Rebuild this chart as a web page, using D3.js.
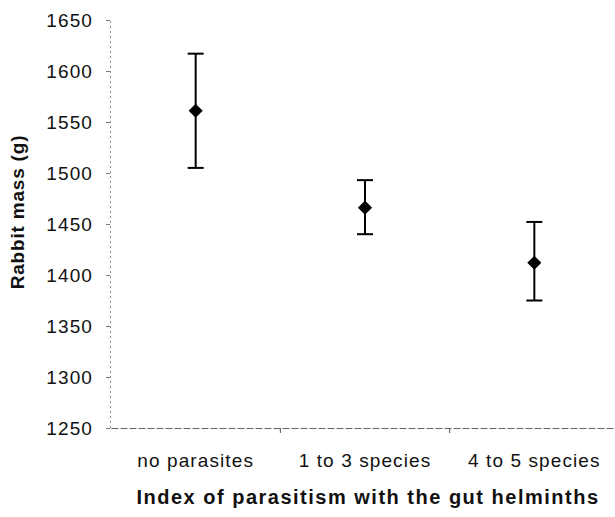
<!DOCTYPE html>
<html>
<head>
<meta charset="utf-8">
<script src="https://cdn.jsdelivr.net/npm/d3@7"></script>
<style>
  html, body { margin: 0; padding: 0; background: #fff; }
  svg { display: block; }
  text { font-family: "Liberation Sans", Arial, sans-serif; fill: #111; }
</style>
</head>
<body>
<svg id="chart" width="615" height="517"></svg>
<script>
// Rabbit body mass by gut-helminth parasitism index (mean with error bars)
const categories = ["no parasites", "1 to 3 species", "4 to 5 species"];
const meanMass = [1561, 1466, 1412];
const upperMass = [1617, 1493, 1452];
const lowerMass = [1505, 1440, 1375];
const yTicks = [1250, 1300, 1350, 1400, 1450, 1500, 1550, 1600, 1650];

const svg = d3.select("#chart");

const x = d3.scaleBand().domain(categories).range([111, 619]).padding(0);
const y = d3.scaleLinear().domain([1250, 1650]).range([428, 20]);

// Y axis
const yAxis = svg.append("g")
  .attr("transform", "translate(110,0)")
  .call(d3.axisLeft(y).tickValues(yTicks).tickFormat(d3.format("d")).tickSize(4).tickPadding(13));
yAxis.select(".domain")
  .attr("stroke", "#8a8a8a").attr("stroke-dasharray", "2,3").attr("stroke-width", 1);
yAxis.selectAll(".tick line").attr("stroke", "#777");
yAxis.selectAll(".tick text")
  .style("font-size", "19px").style("letter-spacing", "1.1px")
  .attr("dy", "0.36em");

// X axis: ticks at the category boundaries
const boundaries = categories.slice(1).map(c => x(c));
const xAxis = svg.append("g")
  .attr("transform", "translate(0,428)")
  .call(d3.axisBottom(x).tickSize(0).tickFormat(""));
xAxis.select(".domain")
  .attr("stroke", "#666").attr("stroke-width", 1.2).attr("stroke-dasharray", "7,2");
xAxis.selectAll(".tick").remove();
xAxis.selectAll("line.sep")
  .data(boundaries)
  .join("line")
  .attr("class", "sep")
  .attr("x1", d => d).attr("x2", d => d)
  .attr("y1", 0).attr("y2", 5)
  .attr("stroke", "#555");

// Category labels
svg.append("g").selectAll("text")
  .data(categories)
  .join("text")
  .attr("x", d => x(d) + x.bandwidth() / 2)
  .attr("y", 467)
  .attr("text-anchor", "middle")
  .style("font-size", "19px")
  .style("letter-spacing", "1.1px")
  .text(d => d);

// Axis titles
svg.append("text")
  .attr("x", 368).attr("y", 504)
  .attr("text-anchor", "middle")
  .style("font-size", "20px").style("font-weight", "bold").style("letter-spacing", "1.5px")
  .text("Index of parasitism with the gut helminths");

svg.append("text")
  .attr("transform", "translate(24,212) rotate(-90)")
  .attr("text-anchor", "middle")
  .style("font-size", "19px").style("font-weight", "bold").style("letter-spacing", "0.8px")
  .text("Rabbit mass (g)");

// Error bars and mean markers
const rows = categories.map((c, i) => ({ c, mean: meanMass[i], hi: upperMass[i], lo: lowerMass[i] }));
const cx = d => x(d.c) + x.bandwidth() / 2;
const capHalf = 8;

const marks = svg.append("g");
marks.selectAll("line.whisker")
  .data(rows).join("line").attr("class", "whisker")
  .attr("x1", cx).attr("x2", cx)
  .attr("y1", d => y(d.hi)).attr("y2", d => y(d.lo))
  .attr("stroke", "#000").attr("stroke-width", 2);
marks.selectAll("line.capHi")
  .data(rows).join("line").attr("class", "capHi")
  .attr("x1", d => cx(d) - capHalf).attr("x2", d => cx(d) + capHalf)
  .attr("y1", d => y(d.hi)).attr("y2", d => y(d.hi))
  .attr("stroke", "#000").attr("stroke-width", 2);
marks.selectAll("line.capLo")
  .data(rows).join("line").attr("class", "capLo")
  .attr("x1", d => cx(d) - capHalf).attr("x2", d => cx(d) + capHalf)
  .attr("y1", d => y(d.lo)).attr("y2", d => y(d.lo))
  .attr("stroke", "#000").attr("stroke-width", 2);
marks.selectAll("path.mean")
  .data(rows).join("path").attr("class", "mean")
  .attr("d", d3.symbol(d3.symbolSquare, 100)())
  .attr("transform", d => `translate(${cx(d)},${y(d.mean)}) rotate(45)`)
  .attr("fill", "#000");
</script>
</body>
</html>
